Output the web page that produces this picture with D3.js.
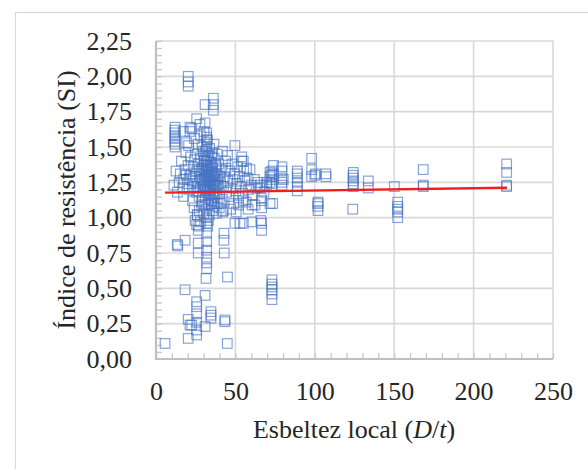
<!DOCTYPE html>
<html>
<head>
<meta charset="utf-8">
<script src="https://cdn.jsdelivr.net/npm/d3@7"></script>
<style>
  html, body { margin: 0; padding: 0; background: #fff; }
  svg { display: block; }
  text { font-family: "Liberation Serif", "Times New Roman", serif; fill: #262626; }
</style>
</head>
<body>
<svg id="chart" width="588" height="469"></svg>
<script>
// Local slenderness D/t against strength index SI, one entry per specimen: [D/t, SI]
const specimens = [
  // main cluster
  [22.1,1.31],[22.8,1.26],[23.4,1.36],[23.9,1.22],[24.3,1.41],[24.7,1.29],[25.2,1.18],[25.6,1.33],
  [25.9,1.45],[26.3,1.24],[26.8,1.38],[27.1,1.15],[27.5,1.29],[27.9,1.21],[28.2,1.42],[28.6,1.34],
  [28.9,1.11],[29.3,1.26],[29.6,1.47],[29.9,1.19],[30.2,1.31],[30.5,1.37],[30.7,1.23],[31.0,1.14],
  [31.2,1.28],[31.5,1.41],[31.8,1.33],[32.1,1.18],[32.3,1.25],[32.6,1.36],[32.9,1.09],[33.1,1.30],
  [33.4,1.44],[33.7,1.21],[34.0,1.27],[34.2,1.16],[34.5,1.39],[34.8,1.32],[35.1,1.12],[35.4,1.24],
  [35.7,1.35],[36.0,1.19],[36.3,1.29],[36.7,1.42],[37.0,1.14],[37.4,1.26],[37.8,1.33],[38.2,1.21],
  [38.6,1.10],[39.0,1.30],[39.5,1.38],[40.0,1.17],[40.6,1.25],[41.2,1.34],[41.8,1.13],[42.5,1.22],
  [43.1,1.29],[43.8,1.40],[44.5,1.18],[45.2,1.26],
  [29.5,1.35],[30.3,1.27],[31.1,1.20],[31.6,1.37],[32.0,1.30],[32.7,1.22],[33.2,1.34],[33.9,1.26],
  [34.3,1.20],[34.9,1.29],[35.3,1.38],[35.9,1.25],[36.2,1.16],[36.9,1.31],[37.2,1.22],[37.6,1.37],
  [38.4,1.27],[33.0,1.13],[34.6,1.10],[30.8,1.09],[36.4,1.11],[29.1,1.16],[28.4,1.27],[27.2,1.33],
  [26.1,1.19],[32.2,1.40],[33.6,1.17],[35.0,1.43],[30.4,1.40],[31.4,1.32],[34.1,1.35],[36.6,1.23],
  [29.8,1.22],[32.8,1.28],[35.8,1.30],[37.9,1.17],[39.2,1.23],[40.3,1.29],
  [23.0,1.12],[24.0,1.07],[26.0,1.02],[27.3,1.05],[28.8,1.08],[30.1,1.03],[31.7,1.06],[33.5,1.02],
  [35.5,1.05],[36.8,1.08],[38.0,1.03],[39.8,1.07],[41.0,1.10],[42.0,1.04],
  [19.0,1.30],[19.6,1.24],[20.2,1.37],[20.8,1.20],[21.3,1.28],[21.7,1.43],[18.2,1.34],[17.5,1.27],
  [16.8,1.21],[16.0,1.40],[15.3,1.31],[14.6,1.25],[13.5,1.18],[12.6,1.33],[11.3,1.23],[17.4,1.15],
  [18.8,1.46],[20.5,1.51],[19.3,1.53],[17.2,1.61],[21.4,1.64],[21.4,1.61],[22.5,1.63],[27.7,1.66],
  [30.2,1.61],[30.9,1.67],[25.6,1.70],[24.2,1.56],[26.5,1.52],[28.0,1.58],[29.0,1.50],[32.4,1.55],
  [33.8,1.49],[35.2,1.46],[36.5,1.52],[38.5,1.45],[31.9,1.60],[31.9,1.57],[31.9,1.55],[31.9,1.52],
  [31.9,1.50],[31.2,1.47],[32.8,1.44],[30.0,1.44],
  [12.0,1.64],[12.0,1.62],[12.0,1.60],[12.0,1.58],[12.0,1.56],[12.0,1.54],[12.0,1.52],[12.0,1.50],
  // upper outliers
  [20.3,2.00],[20.3,1.96],[20.3,1.93],[30.9,1.80],[36.1,1.845],[36.1,1.80],[36.1,1.76],
  // D/t 45 to 80
  [46.0,1.15],[46.5,1.33],[47.2,1.21],[47.8,1.38],[48.4,1.27],[49.0,1.10],[49.6,1.31],[50.2,1.19],
  [50.8,1.24],[51.4,1.36],[52.0,1.14],[52.6,1.29],[53.2,1.22],[53.9,1.40],[54.5,1.17],[55.2,1.33],
  [56.0,1.26],[56.8,1.11],[57.5,1.28],[58.3,1.20],[59.2,1.34],[60.1,1.23],[61.0,1.16],[62.0,1.27],
  [63.0,1.21],[64.2,1.25],[65.5,1.23],[65.5,1.21],[54.0,1.43],[49.7,1.51],[41.8,1.47],[44.0,1.35],
  [45.0,1.44],[47.0,1.06],[50.5,1.04],[52.0,1.09],[55.0,1.12],[58.0,1.06],[60.5,1.09],[62.3,1.09],
  [55.0,1.40],[57.0,1.35],
  [66.5,1.12],[66.5,1.07],[66.3,1.14],[69.7,1.25],[69.7,1.23],[71.8,1.32],[71.8,1.29],[71.8,1.25],
  [72.9,1.33],[72.9,1.30],[72.9,1.27],[72.9,1.24],[72.9,1.22],[73.5,1.10],[74.0,1.37],[74.0,1.31],
  [79.3,1.36],[79.3,1.33],[79.3,1.28],[79.3,1.25],[79.3,1.23],[80.2,1.27],[71.8,1.10],[68.0,1.18],
  // D/t above 85
  [89,1.33],[89,1.31],[89,1.28],[89,1.25],[89,1.22],[89,1.19],
  [98,1.42],[98,1.34],[98,1.29],[100,1.30],[100.5,1.31],[102,1.11],[102,1.08],[102,1.05],[102,1.10],
  [107,1.31],[107,1.29],
  [124.2,1.32],[124.2,1.30],[124.2,1.28],[124.2,1.26],[124.2,1.24],[124.2,1.22],[123.9,1.06],
  [133.7,1.26],[133.7,1.21],
  [150.1,1.22],[152.2,1.11],[152.2,1.08],[152.2,1.06],[152.2,1.04],[152.2,1.00],
  [168.3,1.34],[168.3,1.22],[168.3,1.23],
  [220.8,1.38],[220.8,1.32],[220.8,1.22],[220.8,1.23],
  // SI between 0.5 and 1.0
  [73,0.56],[73,0.53],[73,0.51],[73,0.49],[73,0.46],[73,0.42],[45,0.58],[31.5,0.57],
  [31.9,0.64],[31.9,0.68],[31.9,0.72],[31.9,0.77],[31.9,0.83],[31.9,0.89],[31.9,0.96],[31.9,1.00],
  [42.8,0.89],[42.8,0.84],[43,0.75],[26.6,0.75],[26.6,0.82],[13.4,0.81],[13.7,0.80],[18.3,0.84],
  [25.6,0.95],[24.6,0.98],[26.6,0.91],[27,0.94],[28,0.97],[33,0.98],[32.5,0.94],[49.7,0.96],
  [52.9,0.96],[55,0.96],[60.3,0.97],[66.5,0.96],[66.5,0.91],[66,0.98],[42.4,1.05],[26,1.02],
  // SI below 0.5
  [5.7,0.11],[18.3,0.49],[20.3,0.28],[20.3,0.146],[21.4,0.24],[22.5,0.24],[25.6,0.26],[25.6,0.205],
  [25.6,0.17],[25.6,0.405],[25.6,0.37],[25.6,0.32],[30.9,0.45],[30.9,0.23],[34.6,0.335],[34.6,0.31],
  [34.6,0.29],[43.4,0.276],[43.4,0.264],[44.9,0.11]
];

// Linear trend line end points
const trendDt = [5.7, 221];
const trendSI = [1.177, 1.212];

// Axis ticks
const xTicks = [0, 50, 100, 150, 200, 250];
const yTicks = [0, 0.25, 0.5, 0.75, 1.0, 1.25, 1.5, 1.75, 2.0, 2.25];
const xMinorTicks = d3.range(0, 251, 10);
const yMinorTicks = d3.range(0, 2.2501, 0.05);

const svg = d3.select("#chart");
const plotLeft = 156, plotRight = 553, plotTop = 41, plotBottom = 359;
const serif = "'Liberation Serif', 'Times New Roman', serif";

const x = d3.scaleLinear().domain([0, 250]).range([plotLeft, plotRight]);
const y = d3.scaleLinear().domain([0, 2.25]).range([plotBottom, plotTop]);

const ptBR = d3.formatLocale({decimal: ",", thousands: ".", grouping: [3], currency: ["", ""]});
const fmt2 = ptBR.format(".2f");

// chart frame
svg.append("rect")
  .attr("x", 15.5).attr("y", 12.5).attr("width", 620).attr("height", 500)
  .attr("fill", "#fff").attr("stroke", "#d9d9d9").attr("stroke-width", 1.2);

// gridlines
const grid = svg.append("g").attr("stroke", "#d9d9d9").attr("stroke-width", 1.6);
grid.selectAll("line.h").data(yTicks).join("line").attr("class", "h")
  .attr("x1", plotLeft).attr("x2", plotRight)
  .attr("y1", d => y(d)).attr("y2", d => y(d));
grid.selectAll("line.v").data(xTicks).join("line").attr("class", "v")
  .attr("x1", d => x(d)).attr("x2", d => x(d))
  .attr("y1", plotTop).attr("y2", plotBottom);

// minor ticks pointing into the plot
const yMinor = svg.append("g").attr("transform", `translate(${plotLeft},0)`)
  .call(d3.axisRight(y).tickValues(yMinorTicks).tickSize(6).tickFormat(""));
const xMinor = svg.append("g").attr("transform", `translate(0,${plotBottom})`)
  .call(d3.axisTop(x).tickValues(xMinorTicks).tickSize(6).tickFormat(""));
[yMinor, xMinor].forEach(g => {
  g.select(".domain").remove();
  g.selectAll(".tick line").attr("stroke", "#c8c8c8").attr("stroke-width", 1.3);
});

// axis lines
svg.append("line").attr("x1", plotLeft).attr("x2", plotLeft).attr("y1", plotTop).attr("y2", plotBottom + 1)
  .attr("stroke", "#bfbfbf").attr("stroke-width", 2.2);
svg.append("line").attr("x1", plotLeft - 1).attr("x2", plotRight).attr("y1", plotBottom).attr("y2", plotBottom)
  .attr("stroke", "#bfbfbf").attr("stroke-width", 2.2);

// tick labels
const yAxis = svg.append("g").attr("transform", `translate(${plotLeft},0)`)
  .call(d3.axisLeft(y).tickValues(yTicks).tickSize(0).tickPadding(24).tickFormat(fmt2));
const xAxis = svg.append("g").attr("transform", `translate(0,${plotBottom})`)
  .call(d3.axisBottom(x).tickValues(xTicks).tickSize(0).tickPadding(22.5).tickFormat(d3.format("d")));
[yAxis, xAxis].forEach(g => {
  g.attr("font-family", serif).attr("font-size", 26);
  g.select(".domain").remove();
  g.selectAll("text").attr("font-family", serif).attr("fill", "#262626");
});

// markers
const side = 9.6;
svg.append("g")
  .selectAll("rect").data(specimens).join("rect")
  .attr("x", d => x(d[0]) - side / 2)
  .attr("y", d => y(d[1]) - side / 2)
  .attr("width", side).attr("height", side)
  .attr("fill", "none")
  .attr("stroke", "#4472c4")
  .attr("stroke-opacity", 0.64)
  .attr("stroke-width", 1.2);

// trend line
svg.append("line")
  .attr("x1", x(trendDt[0])).attr("y1", y(trendSI[0]))
  .attr("x2", x(trendDt[1])).attr("y2", y(trendSI[1]))
  .attr("stroke", "#f01e1e").attr("stroke-width", 2.4);

// axis titles
const xTitle = svg.append("text")
  .attr("x", 354).attr("y", 438).attr("text-anchor", "middle")
  .attr("font-family", serif).attr("font-size", 26);
xTitle.append("tspan").text("Esbeltez local (");
xTitle.append("tspan").attr("font-style", "italic").text("D");
xTitle.append("tspan").text("/");
xTitle.append("tspan").attr("font-style", "italic").text("t");
xTitle.append("tspan").text(")");

svg.append("text")
  .attr("transform", "translate(75,200) rotate(-90)")
  .attr("text-anchor", "middle")
  .attr("font-family", serif).attr("font-size", 26)
  .text("Índice de resistência (SI)");
</script>
</body>
</html>
